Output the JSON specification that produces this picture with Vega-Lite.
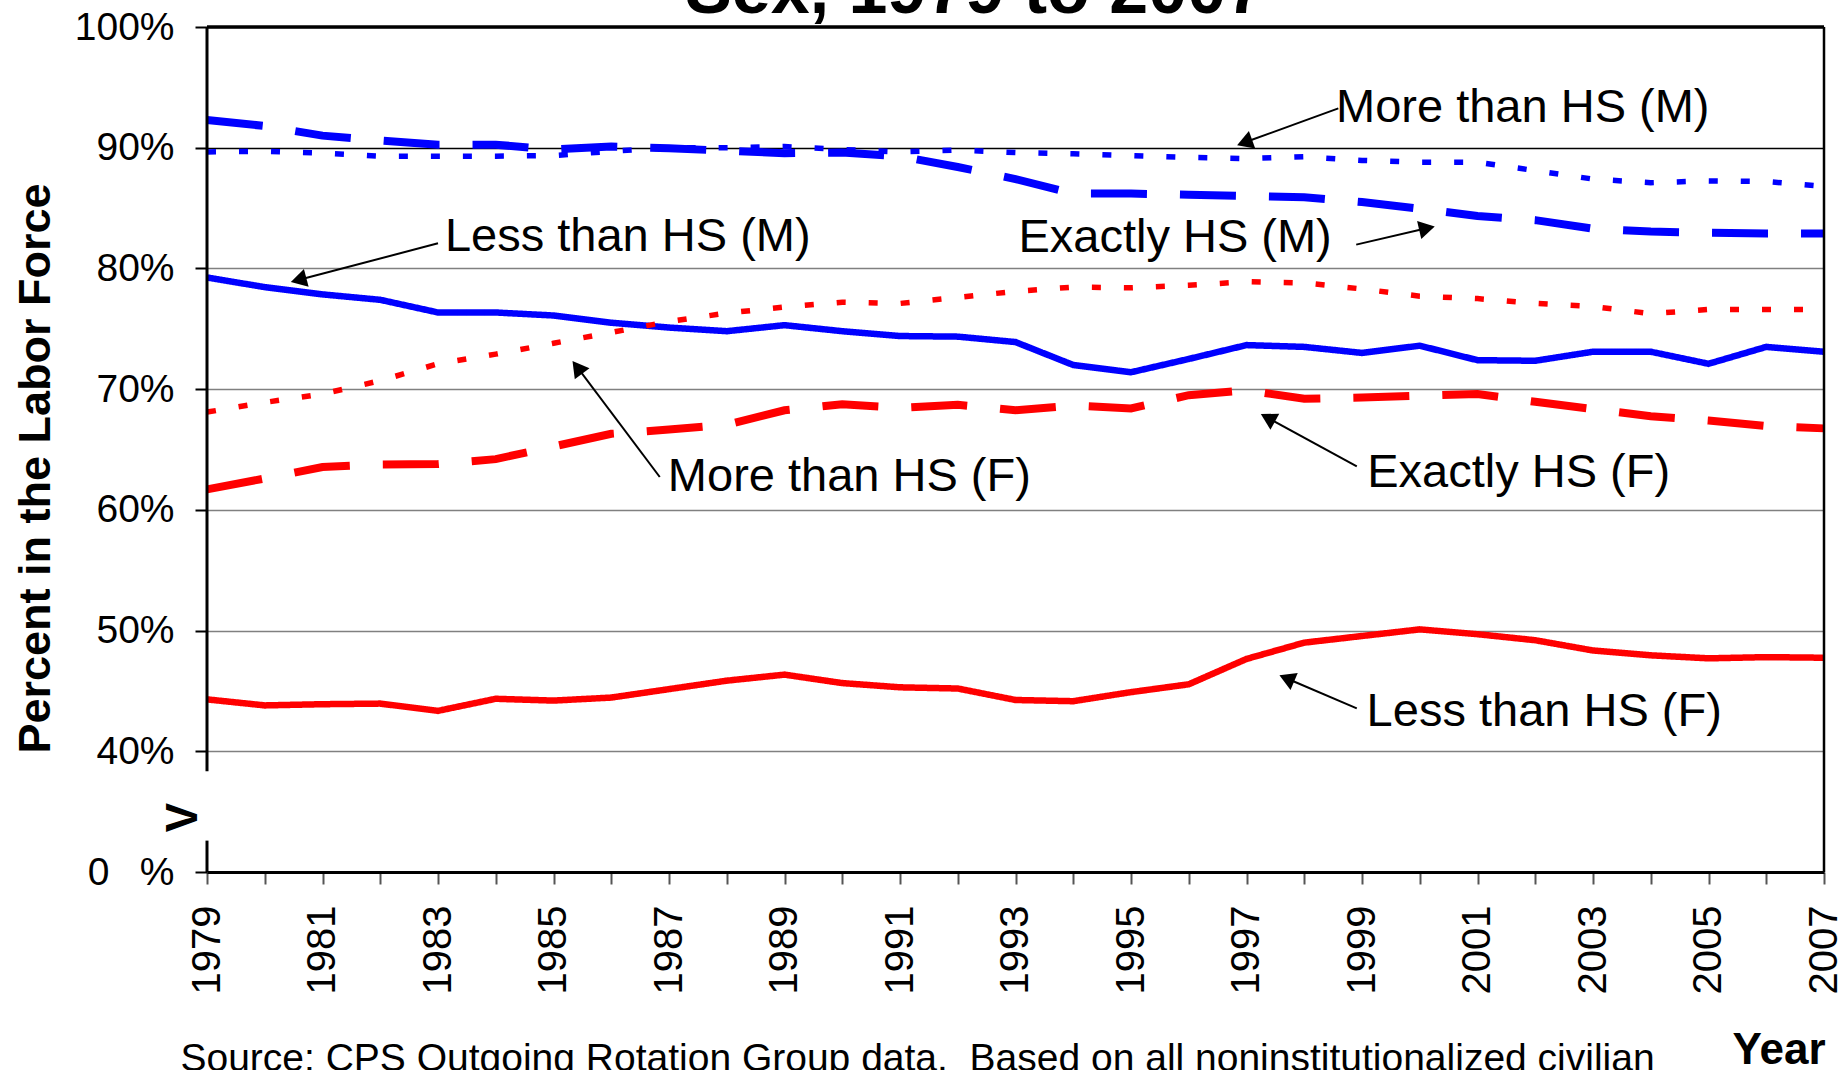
{
  "$schema": "https://vega.github.io/schema/vega-lite/v6.json",
  "width": 1617,
  "height": 845,
  "autosize": {"type": "none"},
  "padding": {"left": 207, "top": 27, "right": 17, "bottom": 198},
  "background": "white",
  "config": {
    "view": {"stroke": null},
    "font": "Liberation Sans",
    "text": {"font": "Liberation Sans", "color": "black"}
  },
  "datasets": {
    "series": [
      {"series": "Less than HS (M)", "year": 1979, "value": 79.25},
      {"series": "Less than HS (M)", "year": 1980, "value": 78.45},
      {"series": "Less than HS (M)", "year": 1981, "value": 77.85},
      {"series": "Less than HS (M)", "year": 1982, "value": 77.4},
      {"series": "Less than HS (M)", "year": 1983, "value": 76.35},
      {"series": "Less than HS (M)", "year": 1984, "value": 76.35},
      {"series": "Less than HS (M)", "year": 1985, "value": 76.1},
      {"series": "Less than HS (M)", "year": 1986, "value": 75.5},
      {"series": "Less than HS (M)", "year": 1987, "value": 75.1},
      {"series": "Less than HS (M)", "year": 1988, "value": 74.8},
      {"series": "Less than HS (M)", "year": 1989, "value": 75.3},
      {"series": "Less than HS (M)", "year": 1990, "value": 74.8},
      {"series": "Less than HS (M)", "year": 1991, "value": 74.4},
      {"series": "Less than HS (M)", "year": 1992, "value": 74.35},
      {"series": "Less than HS (M)", "year": 1993, "value": 73.9},
      {"series": "Less than HS (M)", "year": 1994, "value": 72.0},
      {"series": "Less than HS (M)", "year": 1995, "value": 71.4},
      {"series": "Less than HS (M)", "year": 1996, "value": 72.5},
      {"series": "Less than HS (M)", "year": 1997, "value": 73.65},
      {"series": "Less than HS (M)", "year": 1998, "value": 73.5},
      {"series": "Less than HS (M)", "year": 1999, "value": 73.0},
      {"series": "Less than HS (M)", "year": 2000, "value": 73.6},
      {"series": "Less than HS (M)", "year": 2001, "value": 72.4},
      {"series": "Less than HS (M)", "year": 2002, "value": 72.35},
      {"series": "Less than HS (M)", "year": 2003, "value": 73.1},
      {"series": "Less than HS (M)", "year": 2004, "value": 73.1},
      {"series": "Less than HS (M)", "year": 2005, "value": 72.1},
      {"series": "Less than HS (M)", "year": 2006, "value": 73.5},
      {"series": "Less than HS (M)", "year": 2007, "value": 73.1},

      {"series": "Exactly HS (M)", "year": 1979, "value": 92.3},
      {"series": "Exactly HS (M)", "year": 1980, "value": 91.8},
      {"series": "Exactly HS (M)", "year": 1981, "value": 91.0},
      {"series": "Exactly HS (M)", "year": 1982, "value": 90.6},
      {"series": "Exactly HS (M)", "year": 1983, "value": 90.25},
      {"series": "Exactly HS (M)", "year": 1984, "value": 90.25},
      {"series": "Exactly HS (M)", "year": 1985, "value": 89.85},
      {"series": "Exactly HS (M)", "year": 1986, "value": 90.1},
      {"series": "Exactly HS (M)", "year": 1987, "value": 89.95},
      {"series": "Exactly HS (M)", "year": 1988, "value": 89.75},
      {"series": "Exactly HS (M)", "year": 1989, "value": 89.55},
      {"series": "Exactly HS (M)", "year": 1990, "value": 89.6},
      {"series": "Exactly HS (M)", "year": 1991, "value": 89.3},
      {"series": "Exactly HS (M)", "year": 1992, "value": 88.4},
      {"series": "Exactly HS (M)", "year": 1993, "value": 87.4},
      {"series": "Exactly HS (M)", "year": 1994, "value": 86.2},
      {"series": "Exactly HS (M)", "year": 1995, "value": 86.2},
      {"series": "Exactly HS (M)", "year": 1996, "value": 86.1},
      {"series": "Exactly HS (M)", "year": 1997, "value": 86.0},
      {"series": "Exactly HS (M)", "year": 1998, "value": 85.9},
      {"series": "Exactly HS (M)", "year": 1999, "value": 85.5},
      {"series": "Exactly HS (M)", "year": 2000, "value": 84.95},
      {"series": "Exactly HS (M)", "year": 2001, "value": 84.35},
      {"series": "Exactly HS (M)", "year": 2002, "value": 84.0},
      {"series": "Exactly HS (M)", "year": 2003, "value": 83.3},
      {"series": "Exactly HS (M)", "year": 2004, "value": 83.05},
      {"series": "Exactly HS (M)", "year": 2005, "value": 82.95},
      {"series": "Exactly HS (M)", "year": 2006, "value": 82.9},
      {"series": "Exactly HS (M)", "year": 2007, "value": 82.9},

      {"series": "More than HS (M)", "year": 1979, "value": 89.65},
      {"series": "More than HS (M)", "year": 1980, "value": 89.7},
      {"series": "More than HS (M)", "year": 1981, "value": 89.55},
      {"series": "More than HS (M)", "year": 1982, "value": 89.3},
      {"series": "More than HS (M)", "year": 1983, "value": 89.3},
      {"series": "More than HS (M)", "year": 1984, "value": 89.3},
      {"series": "More than HS (M)", "year": 1985, "value": 89.35},
      {"series": "More than HS (M)", "year": 1986, "value": 89.7},
      {"series": "More than HS (M)", "year": 1987, "value": 90.0},
      {"series": "More than HS (M)", "year": 1988, "value": 90.0},
      {"series": "More than HS (M)", "year": 1989, "value": 90.1},
      {"series": "More than HS (M)", "year": 1990, "value": 89.85},
      {"series": "More than HS (M)", "year": 1991, "value": 89.65},
      {"series": "More than HS (M)", "year": 1992, "value": 89.8},
      {"series": "More than HS (M)", "year": 1993, "value": 89.6},
      {"series": "More than HS (M)", "year": 1994, "value": 89.5},
      {"series": "More than HS (M)", "year": 1995, "value": 89.35},
      {"series": "More than HS (M)", "year": 1996, "value": 89.2},
      {"series": "More than HS (M)", "year": 1997, "value": 89.1},
      {"series": "More than HS (M)", "year": 1998, "value": 89.25},
      {"series": "More than HS (M)", "year": 1999, "value": 88.95},
      {"series": "More than HS (M)", "year": 2000, "value": 88.8},
      {"series": "More than HS (M)", "year": 2001, "value": 88.8},
      {"series": "More than HS (M)", "year": 2002, "value": 88.1},
      {"series": "More than HS (M)", "year": 2003, "value": 87.4},
      {"series": "More than HS (M)", "year": 2004, "value": 87.1},
      {"series": "More than HS (M)", "year": 2005, "value": 87.25},
      {"series": "More than HS (M)", "year": 2006, "value": 87.2},
      {"series": "More than HS (M)", "year": 2007, "value": 86.8},

      {"series": "Less than HS (F)", "year": 1979, "value": 44.3},
      {"series": "Less than HS (F)", "year": 1980, "value": 43.8},
      {"series": "Less than HS (F)", "year": 1981, "value": 43.9},
      {"series": "Less than HS (F)", "year": 1982, "value": 43.95},
      {"series": "Less than HS (F)", "year": 1983, "value": 43.35},
      {"series": "Less than HS (F)", "year": 1984, "value": 44.35},
      {"series": "Less than HS (F)", "year": 1985, "value": 44.2},
      {"series": "Less than HS (F)", "year": 1986, "value": 44.45},
      {"series": "Less than HS (F)", "year": 1987, "value": 45.15},
      {"series": "Less than HS (F)", "year": 1988, "value": 45.85},
      {"series": "Less than HS (F)", "year": 1989, "value": 46.35},
      {"series": "Less than HS (F)", "year": 1990, "value": 45.65},
      {"series": "Less than HS (F)", "year": 1991, "value": 45.3},
      {"series": "Less than HS (F)", "year": 1992, "value": 45.2},
      {"series": "Less than HS (F)", "year": 1993, "value": 44.25},
      {"series": "Less than HS (F)", "year": 1994, "value": 44.15},
      {"series": "Less than HS (F)", "year": 1995, "value": 44.9},
      {"series": "Less than HS (F)", "year": 1996, "value": 45.55},
      {"series": "Less than HS (F)", "year": 1997, "value": 47.65},
      {"series": "Less than HS (F)", "year": 1998, "value": 49.0},
      {"series": "Less than HS (F)", "year": 1999, "value": 49.55},
      {"series": "Less than HS (F)", "year": 2000, "value": 50.1},
      {"series": "Less than HS (F)", "year": 2001, "value": 49.7},
      {"series": "Less than HS (F)", "year": 2002, "value": 49.2},
      {"series": "Less than HS (F)", "year": 2003, "value": 48.35},
      {"series": "Less than HS (F)", "year": 2004, "value": 47.95},
      {"series": "Less than HS (F)", "year": 2005, "value": 47.7},
      {"series": "Less than HS (F)", "year": 2006, "value": 47.8},
      {"series": "Less than HS (F)", "year": 2007, "value": 47.75},

      {"series": "Exactly HS (F)", "year": 1979, "value": 61.7},
      {"series": "Exactly HS (F)", "year": 1980, "value": 62.6},
      {"series": "Exactly HS (F)", "year": 1981, "value": 63.55},
      {"series": "Exactly HS (F)", "year": 1982, "value": 63.75},
      {"series": "Exactly HS (F)", "year": 1983, "value": 63.8},
      {"series": "Exactly HS (F)", "year": 1984, "value": 64.2},
      {"series": "Exactly HS (F)", "year": 1985, "value": 65.25},
      {"series": "Exactly HS (F)", "year": 1986, "value": 66.3},
      {"series": "Exactly HS (F)", "year": 1987, "value": 66.65},
      {"series": "Exactly HS (F)", "year": 1988, "value": 67.05},
      {"series": "Exactly HS (F)", "year": 1989, "value": 68.25},
      {"series": "Exactly HS (F)", "year": 1990, "value": 68.75},
      {"series": "Exactly HS (F)", "year": 1991, "value": 68.45},
      {"series": "Exactly HS (F)", "year": 1992, "value": 68.7},
      {"series": "Exactly HS (F)", "year": 1993, "value": 68.25},
      {"series": "Exactly HS (F)", "year": 1994, "value": 68.65},
      {"series": "Exactly HS (F)", "year": 1995, "value": 68.4},
      {"series": "Exactly HS (F)", "year": 1996, "value": 69.5},
      {"series": "Exactly HS (F)", "year": 1997, "value": 69.9},
      {"series": "Exactly HS (F)", "year": 1998, "value": 69.2},
      {"series": "Exactly HS (F)", "year": 1999, "value": 69.3},
      {"series": "Exactly HS (F)", "year": 2000, "value": 69.45},
      {"series": "Exactly HS (F)", "year": 2001, "value": 69.6},
      {"series": "Exactly HS (F)", "year": 2002, "value": 68.95},
      {"series": "Exactly HS (F)", "year": 2003, "value": 68.35},
      {"series": "Exactly HS (F)", "year": 2004, "value": 67.75},
      {"series": "Exactly HS (F)", "year": 2005, "value": 67.4},
      {"series": "Exactly HS (F)", "year": 2006, "value": 66.95},
      {"series": "Exactly HS (F)", "year": 2007, "value": 66.75},

      {"series": "More than HS (F)", "year": 1979, "value": 68.1},
      {"series": "More than HS (F)", "year": 1980, "value": 68.9},
      {"series": "More than HS (F)", "year": 1981, "value": 69.6},
      {"series": "More than HS (F)", "year": 1982, "value": 70.7},
      {"series": "More than HS (F)", "year": 1983, "value": 72.1},
      {"series": "More than HS (F)", "year": 1984, "value": 72.9},
      {"series": "More than HS (F)", "year": 1985, "value": 73.8},
      {"series": "More than HS (F)", "year": 1986, "value": 74.7},
      {"series": "More than HS (F)", "year": 1987, "value": 75.6},
      {"series": "More than HS (F)", "year": 1988, "value": 76.3},
      {"series": "More than HS (F)", "year": 1989, "value": 76.8},
      {"series": "More than HS (F)", "year": 1990, "value": 77.2},
      {"series": "More than HS (F)", "year": 1991, "value": 77.1},
      {"series": "More than HS (F)", "year": 1992, "value": 77.6},
      {"series": "More than HS (F)", "year": 1993, "value": 78.1},
      {"series": "More than HS (F)", "year": 1994, "value": 78.45},
      {"series": "More than HS (F)", "year": 1995, "value": 78.4},
      {"series": "More than HS (F)", "year": 1996, "value": 78.6},
      {"series": "More than HS (F)", "year": 1997, "value": 78.9},
      {"series": "More than HS (F)", "year": 1998, "value": 78.8},
      {"series": "More than HS (F)", "year": 1999, "value": 78.3},
      {"series": "More than HS (F)", "year": 2000, "value": 77.7},
      {"series": "More than HS (F)", "year": 2001, "value": 77.5},
      {"series": "More than HS (F)", "year": 2002, "value": 77.1},
      {"series": "More than HS (F)", "year": 2003, "value": 76.85},
      {"series": "More than HS (F)", "year": 2004, "value": 76.25},
      {"series": "More than HS (F)", "year": 2005, "value": 76.6},
      {"series": "More than HS (F)", "year": 2006, "value": 76.6},
      {"series": "More than HS (F)", "year": 2007, "value": 76.6}
    ],
    "notes": [
      {"label": "More than HS (M)", "tx": 1998.55, "ty": 92.1, "ax": 1998.59, "ay": 93.26, "hx": 1997.01, "hy": 90.51},
      {"label": "Exactly HS (M)", "tx": 1993.05, "ty": 81.33, "ax": 1998.9, "ay": 81.97, "hx": 2000.08, "hy": 83.28},
      {"label": "Less than HS (M)", "tx": 1983.12, "ty": 81.42, "ax": 1983.0, "ay": 82.08, "hx": 1980.63, "hy": 79.1},
      {"label": "More than HS (F)", "tx": 1986.98, "ty": 61.53, "ax": 1986.84, "ay": 62.72, "hx": 1985.44, "hy": 71.63},
      {"label": "Exactly HS (F)", "tx": 1999.09, "ty": 61.86, "ax": 1998.91, "ay": 63.6, "hx": 1997.41, "hy": 67.51},
      {"label": "Less than HS (F)", "tx": 1999.08, "ty": 42.06, "ax": 1998.91, "ay": 43.55, "hx": 1997.74, "hy": 45.95}
    ],
    "one": [{}]
  },
  "layer": [
    {
      "data": {"name": "series"},
      "mark": {"type": "line", "strokeCap": "butt", "strokeJoin": "miter"},
      "encoding": {
        "x": {
          "field": "year", "type": "quantitative",
          "scale": {"domain": [1979, 2007], "nice": false, "zero": false},
          "axis": {
            "values": [1979,1980,1981,1982,1983,1984,1985,1986,1987,1988,1989,1990,1991,1992,1993,1994,1995,1996,1997,1998,1999,2000,2001,2002,2003,2004,2005,2006,2007],
            "labelExpr": "datum.value % 2 == 1 ? format(datum.value, 'd') : ''",
            "labelAngle": 270,
            "labelAlign": "right",
            "labelBaseline": "middle",
            "labelFontSize": 40,
            "labelFont": "Liberation Sans",
            "labelColor": "black",
            "labelPadding": 21,
            "labelOverlap": false,
            "labelFlush": false,
            "labelBound": false,
            "tickSize": 12,
            "tickWidth": 2,
            "tickColor": "#555555",
            "domainColor": "black",
            "domainWidth": 3,
            "grid": false,
            "title": "Year",
            "titleFont": "Liberation Sans",
            "titleFontSize": 44,
            "titleFontWeight": "bold",
            "titleColor": "black",
            "titleAlign": "right",
            "titleBaseline": "alphabetic",
            "titleX": 1618,
            "titleY": 191
          }
        },
        "y": {
          "field": "value", "type": "quantitative",
          "scale": {"domain": [30, 100], "nice": false, "zero": false},
          "axis": {
            "values": [30, 40, 50, 60, 70, 80, 90, 100],
            "labelExpr": "datum.value == 30 ? '0 \u2002%' : datum.value + '%'",
            "labelFontSize": 39,
            "labelFont": "Liberation Sans",
            "labelColor": "black",
            "labelPadding": 21,
            "labelOverlap": false,
            "labelFlush": false,
            "labelBound": false,
            "tickSize": 12,
            "tickWidth": 2,
            "tickColor": "black",
            "domain": false,
            "grid": true,
            "gridColor": {"condition": {"test": "datum.value == 90", "value": "#000000"}, "value": "#808080"},
            "gridWidth": 1.6,
            "title": "Percent in the Labor Force",
            "titleFont": "Liberation Sans",
            "titleFontSize": 45,
            "titleFontWeight": "bold",
            "titleColor": "black",
            "titleAngle": 270,
            "titleAlign": "center",
            "titleBaseline": "alphabetic",
            "titleX": -158,
            "titleY": 441
          }
        },
        "detail": {"field": "series"},
        "color": {
          "field": "series", "type": "nominal", "legend": null,
          "scale": {
            "domain": ["Less than HS (M)", "Exactly HS (M)", "More than HS (M)", "Less than HS (F)", "Exactly HS (F)", "More than HS (F)"],
            "range": ["#0000FF", "#0000FF", "#0000FF", "#FF0000", "#FF0000", "#FF0000"]
          }
        },
        "strokeDash": {
          "field": "series", "type": "nominal", "legend": null,
          "scale": {
            "domain": ["Less than HS (M)", "Exactly HS (M)", "More than HS (M)", "Less than HS (F)", "Exactly HS (F)", "More than HS (F)"],
            "range": [[1, 0], [56, 33], [9, 23], [1, 0], [56, 33], [9, 23]]
          }
        },
        "strokeWidth": {
          "field": "series", "type": "nominal", "legend": null,
          "scale": {
            "type": "ordinal",
            "domain": ["Less than HS (M)", "Exactly HS (M)", "More than HS (M)", "Less than HS (F)", "Exactly HS (F)", "More than HS (F)"],
            "range": [6.5, 8, 5.5, 6.5, 8, 5.5]
          }
        }
      }
    },
    {
      "data": {"name": "one"},
      "mark": {"type": "rule", "color": "black", "strokeWidth": 3.5},
      "encoding": {
        "x": {"datum": 1979, "type": "quantitative"},
        "x2": {"datum": 2007},
        "y": {"datum": 100, "type": "quantitative"}
      }
    },
    {
      "data": {"name": "one"},
      "mark": {"type": "rule", "color": "black", "strokeWidth": 2.5},
      "encoding": {
        "x": {"datum": 2007, "type": "quantitative"},
        "y": {"datum": 30, "type": "quantitative"},
        "y2": {"datum": 100}
      }
    },
    {
      "data": {"name": "one"},
      "mark": {"type": "rule", "color": "black", "strokeWidth": 3},
      "encoding": {
        "x": {"datum": 1979, "type": "quantitative"},
        "y": {"datum": 100, "type": "quantitative"},
        "y2": {"datum": 38.35}
      }
    },
    {
      "data": {"name": "one"},
      "mark": {"type": "rule", "color": "black", "strokeWidth": 3},
      "encoding": {
        "x": {"datum": 1979, "type": "quantitative"},
        "y": {"datum": 32.6, "type": "quantitative"},
        "y2": {"datum": 30}
      }
    },
    {
      "data": {"name": "one"},
      "mark": {"type": "text", "text": "V", "fontSize": 44, "fontWeight": "bold", "angle": 270, "align": "center", "baseline": "middle", "color": "black"},
      "encoding": {
        "x": {"datum": 1978.6, "type": "quantitative"},
        "y": {"datum": 34.5, "type": "quantitative"}
      }
    },
    {
      "data": {"name": "notes"},
      "mark": {"type": "rule", "color": "black", "strokeWidth": 2},
      "encoding": {
        "x": {"field": "ax", "type": "quantitative"},
        "y": {"field": "ay", "type": "quantitative"},
        "x2": {"field": "hx"},
        "y2": {"field": "hy"}
      }
    },
    {
      "data": {"name": "notes"},
      "mark": {"type": "point", "shape": "triangle", "filled": true, "color": "black", "opacity": 1, "size": 340, "strokeWidth": 0},
      "encoding": {
        "x": {"field": "hx", "type": "quantitative"},
        "y": {"field": "hy", "type": "quantitative"},
        "angle": {
          "field": "label", "type": "nominal", "legend": null,
          "scale": {
            "type": "ordinal",
            "domain": ["More than HS (M)", "Exactly HS (M)", "Less than HS (M)", "More than HS (F)", "Exactly HS (F)", "Less than HS (F)"],
            "range": [249.9, 76.9, 255.3, 323, 298.5, 293]
          }
        }
      }
    },
    {
      "data": {"name": "notes"},
      "mark": {"type": "text", "fontSize": 47, "align": "left", "baseline": "alphabetic", "color": "black"},
      "encoding": {
        "x": {"field": "tx", "type": "quantitative"},
        "y": {"field": "ty", "type": "quantitative"},
        "text": {"field": "label"}
      }
    },
    {
      "data": {"name": "one"},
      "mark": {"type": "text", "text": "Sex, 1979 to 2007", "fontSize": 70, "fontWeight": "bold", "align": "center", "baseline": "alphabetic", "color": "black"},
      "encoding": {
        "x": {"datum": 1992.3, "type": "quantitative"},
        "y": {"datum": 101.13, "type": "quantitative"}
      }
    },
    {
      "data": {"name": "one"},
      "mark": {"type": "text", "text": "Source: CPS Outgoing Rotation Group data.\u00a0 Based on all noninstitutionalized civilian", "fontSize": 39, "align": "left", "baseline": "alphabetic", "color": "black"},
      "encoding": {
        "x": {"datum": 1978.54, "type": "quantitative"},
        "y": {"datum": 13.5, "type": "quantitative"}
      }
    }
  ]
}
